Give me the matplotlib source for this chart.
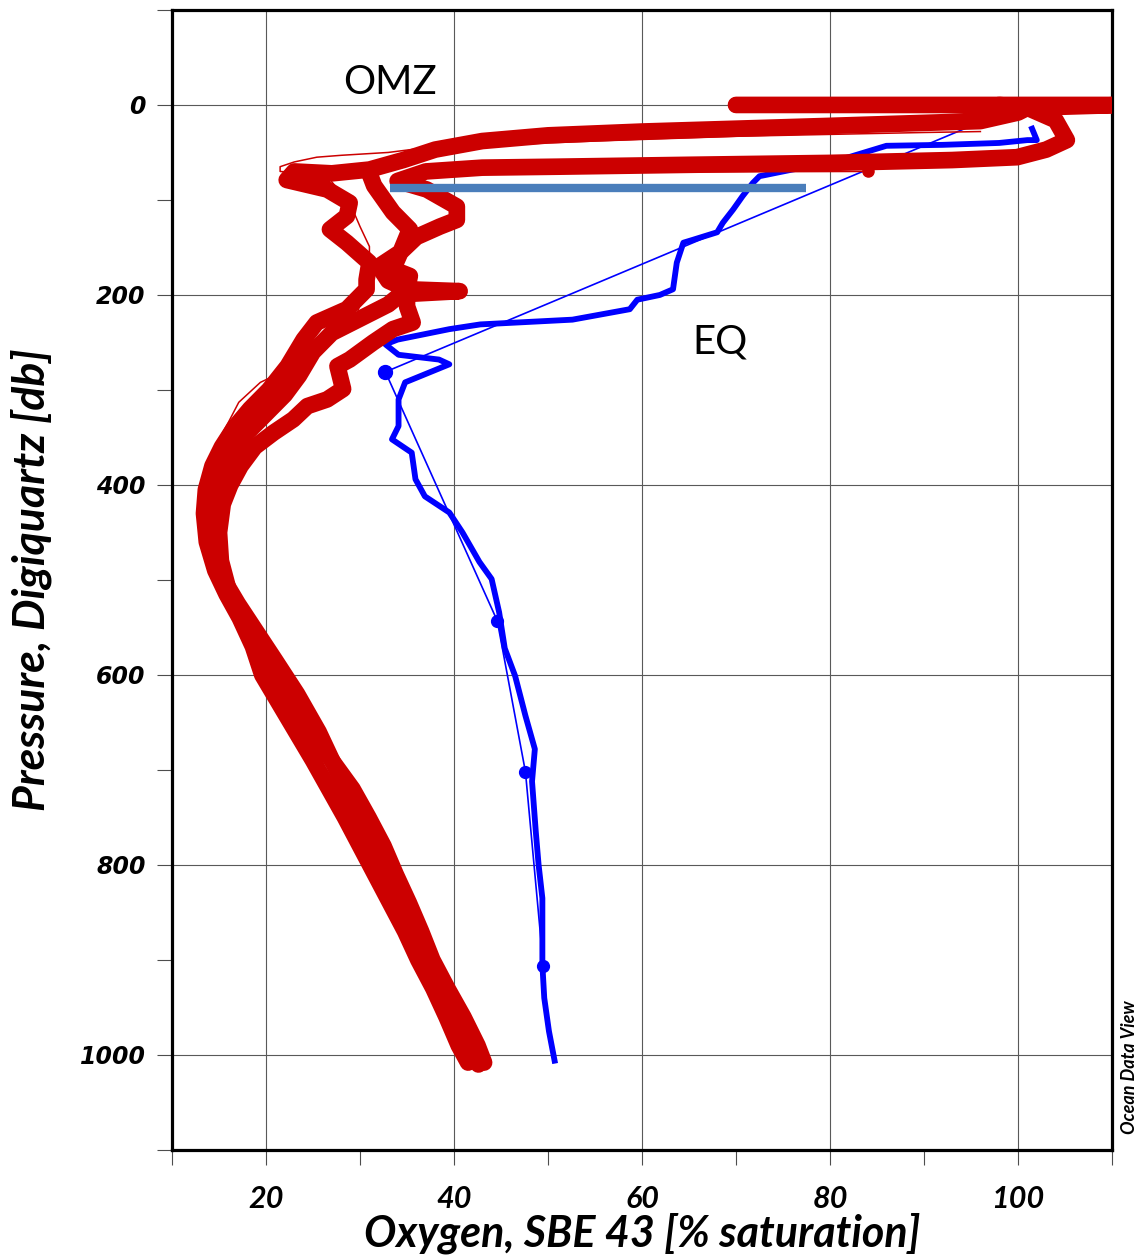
import matplotlib
matplotlib.use('Agg')
import matplotlib.pyplot as plt
import numpy as np

# red casts (OMZ station), thick
castA_x = [70, 111, 101, 100, 96, 80, 60, 50, 43, 38, 34.6, 31, 27, 23, 22.2, 26.5, 28.9, 28.6,
           26.8, 28.6, 31, 30.7, 30.7, 28.6, 25.4, 24, 22.3, 20.3, 18.3, 16.6, 15.3, 14.3, 13.6,
           13.4, 13.7, 14.6, 15.8, 17.2, 18.6, 19.6, 21.4, 23.2, 25, 26.7, 28.4, 30, 31.6, 33.2,
           34.8, 36.2, 37.8, 39.2, 40.5, 41.5]
castA_y = [0, 0, 3, 8, 17, 22, 28, 32, 38, 47, 58, 68, 72, 70, 79, 89, 103, 117,
           131, 145, 166, 184, 194, 215, 229, 247, 275, 300, 320, 340, 360, 380, 405,
           430, 460, 490, 515, 540, 570, 600, 630, 660, 690, 720, 750, 780, 810, 840,
           870, 900, 930, 960, 990, 1008]

castB_x = [98, 101, 104, 105.2, 103, 99.9, 93, 80, 65, 51, 43, 37, 34, 37.1, 40.3, 40.3, 38.5,
           36, 34.3, 33.5, 35.3, 35, 40.6, 35, 35, 35.6, 33.5, 31.4, 28.9, 27.6, 28.2, 26.5,
           24.4, 22.9, 20.8, 18.8, 17.3, 16.2, 15.4, 15, 15.2, 16, 17.5, 19.2, 20.8, 22.8,
           24.8, 27, 29.2, 30.9, 32.5, 33.8, 35.2, 36.5, 37.7, 39.3, 41, 42.5, 43.2]
castB_y = [0, 3, 16, 37, 47, 55, 58, 61, 63, 65, 66, 70, 80, 89, 107, 121, 128,
           139, 155, 173, 180, 194, 196, 199, 212, 229, 236, 250, 268, 275, 299, 310,
           317, 331, 345, 360, 380, 400, 420, 450, 480, 510, 540, 570, 600, 630,
           660, 690, 720, 750, 780, 810, 840, 870, 900, 930, 960, 990, 1008]

castC_x = [31, 31.5, 33.5, 35.3, 34.3, 32, 33, 35, 33, 30, 27, 25, 23.5, 22, 20, 18, 16.5, 15.5,
           14.5, 14, 14.5, 15.5, 17, 19, 21, 23.3, 25.6, 27.5, 29.4, 31.2, 32.7, 34.2, 35.6,
           37, 38.6, 40.2, 42, 42.6]
castC_y = [72, 85, 113, 131, 155, 170, 185, 194, 210, 225, 240, 260, 285, 305, 325, 345, 365, 385,
           410, 440, 470, 500, 525, 555, 585, 620, 660, 700, 735, 770, 800, 835, 870,
           900, 935, 970, 1000, 1010]

# red thin cast
thin_x = [96, 90, 70, 55, 45, 37.8, 33, 28, 25.4, 23, 21.5, 21.5, 24, 26.5, 27.5, 29, 30, 31, 31,
          30.5, 29.7, 27.5, 25.7, 22.4, 19.4, 17.1, 16, 15, 14.3, 14, 13.8, 14]
thin_y = [28, 29, 33, 38, 42, 44, 50, 53, 55, 60, 65, 70, 72, 75, 87, 105, 128, 149, 170,
          195, 219, 229, 254, 278, 292, 313, 334, 352, 383, 401, 430, 460]
thin2_x = [84, 45]
thin2_y = [70, 71]

# blue CTD profile (EQ station)
eq_x = [101.5, 102, 101, 98, 92, 86, 82, 79, 76, 72.5, 71.8, 70.7, 69.7, 68.6, 68, 65.4, 64.4,
        63.7, 63.3, 61.9, 59.5, 58.7, 52.6, 42.8, 39.5, 34, 32.7, 34.1, 38.4, 39.5, 34.8, 34.1,
        34.1, 33.4, 35.5, 35.9, 36.9, 39.5, 40.9, 42.7, 44, 44.8, 45.4, 46.5, 47.6, 48.6, 48.3,
        48.7, 49, 49.4, 49.4, 49.4, 49.6, 50.1, 50.7]
eq_y = [25, 37, 37, 40, 42, 43, 55, 63, 68, 75, 82, 96, 110, 124, 134, 142, 145,
        166, 194, 200, 205, 215, 226, 231, 236, 247, 252, 263, 268, 273, 292, 310,
        338, 352, 366, 394, 412, 429, 450, 481, 499, 534, 572, 601, 643, 678, 712,
        765, 800, 835, 870, 905, 940, 975, 1006]

# blue bottle samples
btl_x = [96, 32.7, 44.6, 47.6, 49.5]
btl_y = [18, 281, 543, 702, 906]

# mixed layer bar
bar_x = [33.2, 77.4]
bar_y = [87, 87]

red = '#cc0000'
blue = '#0000ff'
narrow = ['Lato', 'DejaVu Sans']

fig = plt.figure(figsize=(11.37, 12.59), dpi=100)
ax = fig.add_axes([0.1513, 0.0866, 0.8267, 0.9055])

# blue first, red on top
ax.plot(eq_x, eq_y, color=blue, lw=4.2, solid_joinstyle='round', zorder=2)
ax.plot(btl_x, btl_y, color=blue, lw=1.2, zorder=2)
ax.plot(btl_x[1:2], btl_y[1:2], 'o', color=blue, ms=10, zorder=2)
ax.plot(btl_x[2:], btl_y[2:], 'o', color=blue, ms=8.5, zorder=2)

for cx, cy in [(castA_x, castA_y), (castB_x, castB_y), (castC_x, castC_y)]:
    ax.plot(cx, cy, color=red, lw=12, solid_capstyle='round', solid_joinstyle='round', zorder=3)
ax.plot(thin_x, thin_y, color=red, lw=1.1, zorder=3)
ax.plot(thin2_x, thin2_y, color=red, lw=1.1, zorder=3)
ax.plot([84], [70], 'o', color=red, ms=8, zorder=3)

ax.plot(bar_x, bar_y, color='#4a7ebb', lw=6, solid_capstyle='butt', zorder=4)

ax.text(33.2, -4, 'OMZ', fontsize=29, family='Lato', ha='center', va='bottom', zorder=5)
ax.text(68.3, 249, 'EQ', fontsize=29, family='Lato', ha='center', va='center', zorder=5)

ax.set_xlim(10, 110)
ax.set_ylim(1100, -100)
ax.set_xticks([20, 40, 60, 80, 100])
ax.set_xticks(np.arange(10, 111, 10), minor=True)
ax.set_yticks([0, 200, 400, 600, 800, 1000])
ax.set_yticks(np.arange(-100, 1101, 100), minor=True)
ax.grid(True, which='major', color='0.35', lw=0.8)
ax.set_axisbelow(True)

ax.tick_params(axis='both', which='both', direction='out', length=11, width=0.8, color='0.3')
ax.tick_params(axis='x', pad=14)
ax.tick_params(axis='y', pad=8)
for lab in ax.get_xticklabels():
    lab.set_family(narrow)
    lab.set_fontsize(22)
    lab.set_fontweight('bold')
    lab.set_fontstyle('italic')
for lab in ax.get_yticklabels():
    lab.set_family('DejaVu Sans')
    lab.set_fontsize(17)
    lab.set_fontweight('bold')
    lab.set_fontstyle('italic')

for s in ax.spines.values():
    s.set_linewidth(2.3)

ax.set_xlabel('Oxygen, SBE 43 [% saturation]', family=narrow, fontsize=31,
              fontweight='bold', fontstyle='italic', labelpad=0)
ax.set_ylabel('Pressure, Digiquartz [db]', family=narrow, fontsize=32,
              fontweight='bold', fontstyle='italic')
ax.yaxis.label.set_va('center')
ax.yaxis.set_label_coords(-0.150, 0.5)

fig.text(0.9935, 0.152, 'Ocean Data View', rotation=90, family=narrow, fontsize=13,
         fontweight='bold', fontstyle='italic', ha='center', va='center')

fig.savefig('out.png', dpi=100, facecolor='white')
